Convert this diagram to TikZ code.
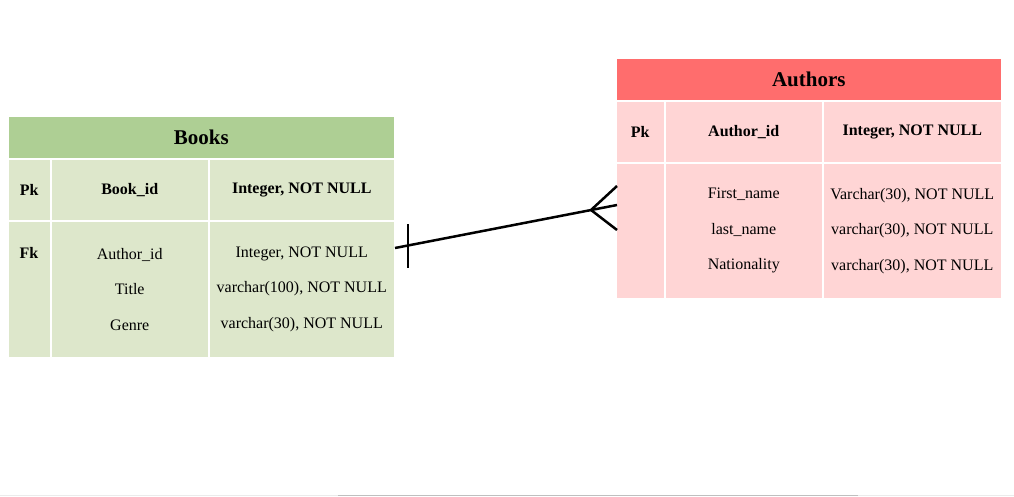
\documentclass[tikz,border=0pt]{standalone}
\usepackage{fontspec}
\setmainfont{Liberation Serif}
\usetikzlibrary{calc}
\definecolor{bhead}{HTML}{AECF94}
\definecolor{bbody}{HTML}{DDE7CB}
\definecolor{ahead}{HTML}{FF6D6D}
\definecolor{abody}{HTML}{FFD5D5}
\begin{document}
\begin{tikzpicture}[x=1pt,y=-1pt,
  cell/.style={draw=white, line width=1.5pt, inner sep=0pt, anchor=north west,
    align=center, font=\fontsize{16}{19}\selectfont},
  multi/.style={font=\fontsize{16}{35.5}\selectfont},
  headtxt/.style={font=\bfseries\fontsize{21}{25}\selectfont},
  link/.style={line width=2.5pt, black}]
\useasboundingbox (0,0) rectangle (1014,496);
% Books
\node[cell, fill=bhead, minimum width=387pt, minimum height=43pt, headtxt] (bh) at (7,115) {Books};
\node[cell, fill=bbody, minimum width=43pt, minimum height=62pt] (b11) at (7,158) {\bfseries Pk};
\node[cell, fill=bbody, minimum width=158pt, minimum height=62pt] (b12) at (50,158) {\bfseries Book\_id};
\node[cell, fill=bbody, minimum width=186pt, minimum height=62pt] (b13) at (208,158) {\bfseries Integer, NOT NULL};
\node[cell, fill=bbody, minimum width=43pt, minimum height=137pt] (b21) at (7,220) {};
\node[cell, fill=bbody, minimum width=158pt, minimum height=137pt, multi] (b22) at (50,220) {Author\_id\\Title\\Genre};
\node[cell, fill=bbody, minimum width=186pt, minimum height=137pt, multi] (b23) at (208,220) {Integer, NOT NULL\\varchar(100), NOT NULL\\varchar(30), NOT NULL};
\node[font=\bfseries\fontsize{16}{19}\selectfont, inner sep=0pt] (fk) at (29,253) {Fk};
% Authors
\node[cell, fill=ahead, minimum width=386pt, minimum height=43pt, headtxt] (ah) at (615,57) {Authors};
\node[cell, fill=abody, minimum width=49pt, minimum height=62pt] (a11) at (615,100) {\bfseries Pk};
\node[cell, fill=abody, minimum width=158pt, minimum height=62pt] (a12) at (664,100) {\bfseries Author\_id};
\node[cell, fill=abody, minimum width=179pt, minimum height=62pt] (a13) at (822,100) {\bfseries Integer, NOT NULL};
\node[cell, fill=abody, minimum width=49pt, minimum height=136pt] (a21) at (615,162) {};
\node[cell, fill=abody, minimum width=158pt, minimum height=136pt, multi] (a22) at (664,162) {First\_name\\last\_name\\Nationality};
\node[cell, fill=abody, minimum width=179pt, minimum height=136pt, multi] (a23) at (822,162) {Varchar(30), NOT NULL\\varchar(30), NOT NULL\\varchar(30), NOT NULL};
% Relationship
\coordinate (p1) at (395,248);
\coordinate (p2) at (617,205);
\coordinate (cf) at (591,210);
\draw[link] (p1) -- (p2);
\draw[link] ($(p1)+(13,-24)$) -- ($(p1)+(13,20)$);
\draw[link] ($(p2)+(0,-19)$) -- (cf) -- ($(p2)+(0,25)$);
% bottom strip
\draw[line width=1pt, color=black!8] (0,495.5) -- (1014,495.5);
\draw[line width=1pt, color=black!25] (338,495.5) -- (858,495.5);
\end{tikzpicture}
\end{document}
